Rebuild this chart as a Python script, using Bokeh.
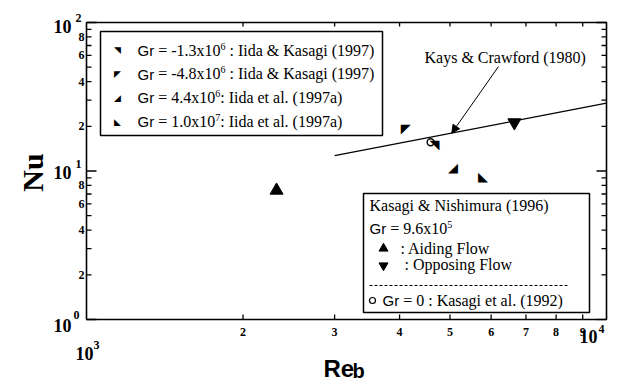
import math
from bokeh.plotting import figure
from bokeh.models import Range1d, Label, Arrow, NormalHead
from bokeh.core.properties import value
from bokeh.embed import file_html
from bokeh.resources import INLINE

# ---------------- data ----------------
# Kasagi & Nishimura (1996), Gr = 9.6x10^5
aiding_re = [2320]
aiding_nu = [7.4]
opposing_re = [6650]
opposing_nu = [21.2]
# Kasagi et al. (1992), Gr = 0
forced_re = [4590]
forced_nu = [15.6]
# Iida & Kasagi (1997) / Iida et al. (1997a)
iida_gr_mant = ["-1.3", "-4.8", "4.4", "1.0"]
iida_gr_exp = ["6", "6", "6", "7"]
iida_refs = ["Iida & Kasagi (1997)", "Iida & Kasagi (1997)",
             "Iida et al. (1997a)", "Iida et al. (1997a)"]
iida_re = [4670, 4110, 5070, 5790]
iida_nu = [15.1, 19.3, 10.6, 9.2]
iida_marks = ["\u25e5", "\u25e4", "\u25e2", "\u25e3"]
# Kays & Crawford (1980) correlation
kc_re = [3000, 10000]
kc_nu = [12.7, 28.6]
kc_label_tip = (5040, 18.0)

# axes
RE_MIN, RE_MAX = 1000, 10000
NU_MIN, NU_MAX = 1, 100
x_ticks = [2000, 3000, 4000, 5000, 6000, 7000, 8000, 9000]
x_tick_labels = ["2", "3", "4", "5", "6", "7", "8", "9"]
y_decades = [1, 10, 100]
y_minor = [2, 3, 4, 5, 6, 7, 8, 9, 20, 30, 40, 50, 60, 70, 80, 90]
y_labelled = [2, 4, 6, 8, 20, 40, 60, 80]
y_labelled_text = ["2", "4", "6", "8", "2", "4", "6", "8"]

SERIF = "Liberation Serif"
SANS = "Liberation Sans"
SYM = "DejaVu Sans"

# ---------------- canvas / frame geometry ----------------
W, H = 628, 382
L, T, FW, FH = 86, 22, 520, 297      # plotting box inside the canvas


def dx(px):
    """canvas column -> Re"""
    return 10 ** (math.log10(RE_MIN) + (px - L) / FW * math.log10(RE_MAX / RE_MIN))


def dy(py):
    """canvas row -> Nu"""
    return 10 ** (math.log10(NU_MAX) - (py - T) / FH * math.log10(NU_MAX / NU_MIN))


p = figure(width=W, height=H, x_axis_type="log", y_axis_type="log",
           x_range=Range1d(dx(0), dx(W)), y_range=Range1d(dy(H), dy(0)),
           min_border=0, output_backend="svg", toolbar_location=None)
p.outline_line_color = None
p.xaxis.visible = False
p.yaxis.visible = False
p.xgrid.visible = False
p.ygrid.visible = False
p.background_fill_color = "white"
p.border_fill_color = "white"

INK = "black"

# ---------------- legend boxes (drawn first, everything else on top) ----------------
p.quad(left=[dx(100), dx(363)], right=[dx(382), dx(589)],
       top=[dy(31), dy(193)], bottom=[dy(135), dy(312)],
       fill_color="white", line_color=INK, line_width=1.5)

# ---------------- plotting box and ticks ----------------
p.line([RE_MIN, RE_MAX, RE_MAX, RE_MIN, RE_MIN], [NU_MIN, NU_MIN, NU_MAX, NU_MAX, NU_MIN],
       line_color=INK, line_width=1.6)

# x ticks (bottom, pointing up; top, pointing down)
p.segment(x0=x_ticks, x1=x_ticks, y0=[NU_MIN] * len(x_ticks), y1=[dy(T + FH - 5)] * len(x_ticks),
          line_color=INK, line_width=1.3)
p.segment(x0=x_ticks, x1=x_ticks, y0=[NU_MAX] * len(x_ticks), y1=[dy(T + 4)] * len(x_ticks),
          line_color=INK, line_width=1.3)
# y ticks (left and right, pointing inward)
for vals, ln in ((y_decades, 10), (y_minor, 5)):
    n = len(vals)
    p.segment(x0=[RE_MIN] * n, x1=[dx(L + ln)] * n, y0=vals, y1=vals,
              line_color=INK, line_width=1.3)
    p.segment(x0=[RE_MAX] * n, x1=[dx(L + FW - ln)] * n, y0=vals, y1=vals,
              line_color=INK, line_width=1.3)

# tick labels
p.text(x=x_ticks, y=[dy(331)] * len(x_ticks), text=x_tick_labels,
       text_font=value(SERIF), text_font_style="bold", text_font_size="12px",
       text_align="center", text_baseline="middle", text_color=INK)
p.text(x=[dx(84)] * len(y_labelled), y=y_labelled, text=y_labelled_text,
       text_font=value(SERIF), text_font_style="bold", text_font_size="12px",
       text_align="right", text_baseline="middle", text_color=INK)

# ---------------- data marks ----------------
p.line(kc_re, kc_nu, line_color=INK, line_width=1.3)
p.scatter(aiding_re, aiding_nu, marker="triangle", size=13, color=INK)
p.scatter(opposing_re, opposing_nu, marker="inverted_triangle", size=13, color=INK)
p.scatter(forced_re, forced_nu, marker="circle", size=7, fill_color=None,
          line_color=INK, line_width=1.4)
p.text(x=iida_re, y=iida_nu, text=iida_marks, text_font=value(SYM),
       text_font_size="13px", text_align="center", text_baseline="middle",
       text_color=INK)

# ---------------- text helpers ----------------
SERIF_W = {" ": 250, "(": 333, ")": 333, "-": 333, ".": 250, ":": 278, "=": 564,
           "&": 778, "a": 444, "c": 444, "d": 500, "e": 444, "f": 333, "g": 500,
           "h": 500, "i": 278, "l": 278, "m": 778, "r": 333, "s": 389, "t": 278,
           "u": 500, "w": 722, "x": 500, "y": 500, "A": 722, "C": 667, "F": 556,
           "I": 333, "K": 722, "N": 722, "O": 722}
SANS_W = {"G": 778, "r": 333, " ": 278}


def text_w(s, size, sans=False):
    table = SANS_W if sans else SERIF_W
    return sum(table.get(c, 500) for c in s) * size / 1000


def put(px, py, text, font=SERIF, size=16, bold=False, align="left",
        on_baseline=True, angle=0.0):
    """Place a label; py is the baseline row (or the centre row)."""
    cy = py - 0.33 * size if on_baseline else py
    p.add_layout(Label(x=dx(px), y=dy(cy), text=text, text_font=font,
                       text_font_size=f"{size}px",
                       text_font_style="bold" if bold else "normal",
                       text_align=align, text_baseline="middle",
                       text_color=INK, angle=angle))


def run(px, py, pieces):
    """Lay out (text, sans?, size, rise) pieces one after another on a baseline."""
    for text, sans, size, rise in pieces:
        lead = len(text) - len(text.lstrip(" "))
        px += text_w(" " * lead, size, sans)
        body = text.lstrip(" ")
        if body:
            put(px, py - rise, body, SANS if sans else SERIF, size)
        px += text_w(body, size, sans)


def gr_pieces(mant, exp, tail):
    return [("Gr", True, 15, 0), (" = " + mant + "x10", False, 16, 0),
            (exp, False, 10, 6), (tail, False, 16, 0)]


# Kays & Crawford annotation
put(424, 62, "Kays & Crawford (1980)")
p.add_layout(Arrow(end=NormalHead(size=8, fill_color=INK, line_color=INK),
                   x_start=dx(498), y_start=dy(66),
                   x_end=kc_label_tip[0], y_end=kc_label_tip[1],
                   line_color=INK, line_width=1))

# ---------------- legend 1 ----------------
for i, (mant, exp, ref, mark) in enumerate(zip(iida_gr_mant, iida_gr_exp, iida_refs, iida_marks)):
    base = 54.8 + i * 23.8
    put(117, base - 5, mark, SYM, 9, align="center", on_baseline=False)
    tail = (" : " if i < 2 else ":  ") + ref
    run(137, base, gr_pieces(mant, exp, tail))

# ---------------- legend 2 ----------------
put(369, 210, "Kasagi & Nishimura (1996)")
run(369, 233, gr_pieces("9.6", "5", ""))
p.scatter([dx(383)], [dy(248)], marker="triangle", size=9, color=INK)
put(400, 253, ": Aiding Flow")
p.scatter([dx(383)], [dy(265)], marker="inverted_triangle", size=9, color=INK)
put(404, 269, ": Opposing Flow")
p.line([dx(369), dx(568)], [dy(285), dy(285)], line_color=INK,
       line_width=1, line_dash="3 2")
p.scatter([dx(372)], [dy(300)], marker="circle", size=6, fill_color=None,
          line_color=INK, line_width=1.2)
run(382, 305, [("Gr", True, 15, 0), (" = 0 : Kasagi et al. (1992)", False, 16, 0)])

# ---------------- decade labels and axis titles ----------------
for xb, yb, xs, ys, e in [(53, 32, 75, 21, "2"), (53, 178, 75, 167, "1"),
                          (53, 331, 73, 318, "0"), (75, 359, 93, 348, "3"),
                          (579, 342, 598, 332, "4")]:
    put(xb, yb, "10", SERIF, 18, bold=True)
    put(xs, ys, e, SERIF, 12, bold=True)

put(32, 172, "Nu", SERIF, 30, bold=True, align="center", on_baseline=False,
    angle=math.pi / 2)
put(323, 376, "Re", SANS, 24, bold=True)
put(352, 377, "b", SANS, 20, bold=True)

open("out.html", "w").write(file_html(p, INLINE))
